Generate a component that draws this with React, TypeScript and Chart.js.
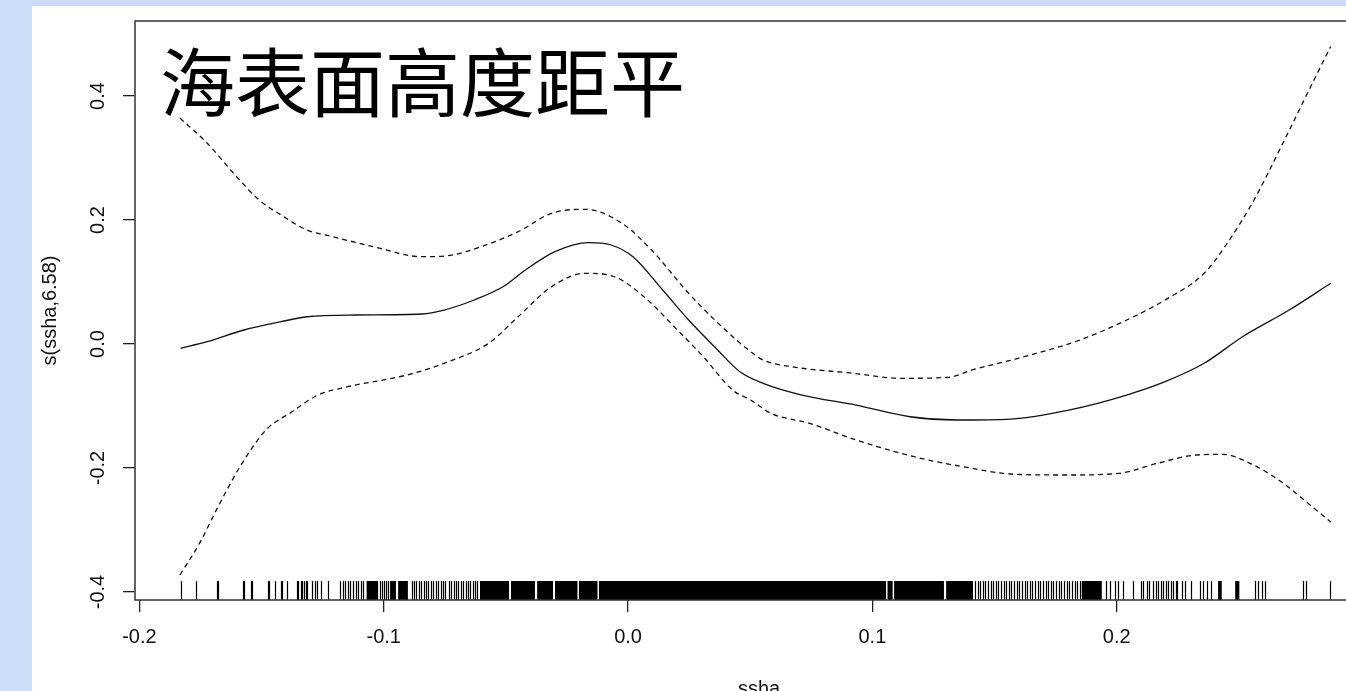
import React, { useEffect, useRef } from "react";
import { Chart, registerables } from "chart.js";

Chart.register(...registerables);

const TITLE = "海表面高度距平";
const X_LABEL = "ssha";
const Y_LABEL = "s(ssha,6.58)";

const xTickValues = [-0.2, -0.1, 0.0, 0.1, 0.2];
const yTickValues = [-0.4, -0.2, 0.0, 0.2, 0.4];

// smooth term estimate
const fitX = [-0.1832, -0.1723, -0.1572, -0.142, -0.1314, -0.1117, -0.0843, -0.0753, -0.063, -0.0512, -0.042, -0.0299, -0.0162, -0.007, 0.002, 0.0142, 0.0248, 0.0354, 0.0458, 0.0553, 0.0712, 0.0933, 0.1154, 0.1345, 0.1566, 0.1804, 0.2041, 0.2198, 0.2358, 0.2515, 0.2706, 0.2876];
const fitY = [-0.0069, 0.0037, 0.0226, 0.036, 0.044, 0.0468, 0.0484, 0.0548, 0.071, 0.0924, 0.1194, 0.1489, 0.1634, 0.1597, 0.1408, 0.0871, 0.0387, -0.0044, -0.0447, -0.0634, -0.0823, -0.0984, -0.1173, -0.1226, -0.121, -0.1065, -0.0823, -0.0608, -0.0311, 0.0118, 0.0548, 0.0979];

// upper confidence band
const upperX = [-0.1834, -0.1723, -0.1602, -0.151, -0.142, -0.1314, -0.1208, -0.1041, -0.0843, -0.0722, -0.0602, -0.045, -0.0313, -0.0177, -0.0025, 0.0096, 0.0248, 0.0384, 0.0502, 0.0553, 0.0696, 0.0901, 0.1122, 0.1313, 0.1408, 0.1596, 0.185, 0.2041, 0.2198, 0.2358, 0.2452, 0.2562, 0.2673, 0.2767, 0.2876];
const upperY = [0.3645, 0.3242, 0.2698, 0.2323, 0.2081, 0.1839, 0.1731, 0.1569, 0.1408, 0.1435, 0.1569, 0.1811, 0.2108, 0.2173, 0.1947, 0.1516, 0.0818, 0.0279, -0.0124, -0.0258, -0.0382, -0.0463, -0.0553, -0.0537, -0.0419, -0.0231, 0.0065, 0.0387, 0.071, 0.114, 0.1624, 0.2323, 0.3182, 0.3935, 0.48];

// lower confidence band
const lowerX = [-0.1834, -0.1754, -0.1678, -0.1588, -0.1482, -0.1375, -0.1269, -0.1147, -0.0905, -0.0753, -0.0571, -0.045, -0.0313, -0.0177, -0.0056, 0.0065, 0.0202, 0.0308, 0.043, 0.0502, 0.0585, 0.0743, 0.0933, 0.1171, 0.1408, 0.1566, 0.1804, 0.201, 0.2167, 0.2325, 0.2436, 0.2546, 0.2673, 0.2767, 0.2876];
const lowerY = [-0.3726, -0.3215, -0.2624, -0.1979, -0.1387, -0.1092, -0.0823, -0.0689, -0.05, -0.0311, 0.0011, 0.044, 0.0924, 0.114, 0.1085, 0.0763, 0.0226, -0.0205, -0.075, -0.0903, -0.1118, -0.1279, -0.1548, -0.1818, -0.2005, -0.2097, -0.2113, -0.2085, -0.1924, -0.179, -0.1779, -0.1924, -0.2221, -0.2516, -0.287];

// observed ssha values (rug)
const rugValues = [
  -0.1831, -0.177, -0.1684, -0.168, -0.1577, -0.1572, -0.1544, -0.1539, -0.1474, -0.1468,
  -0.1444, -0.1422, -0.1416, -0.1397, -0.1356, -0.135, -0.1338, -0.1333, -0.1327, -0.1319,
  -0.1314, -0.1295, -0.1281, -0.1274, -0.1258, -0.1227, -0.1179, -0.1168, -0.1158, -0.1147,
  -0.1138, -0.1126, -0.1115, -0.1105, -0.1093, -0.1083, -0.1015, -0.1007, -0.0999, -0.0991,
  -0.0982, -0.0884, -0.0876, -0.0866, -0.0855, -0.0847, -0.0837, -0.0827, -0.0819, -0.0806,
  -0.0798, -0.0786, -0.0778, -0.0767, -0.0757, -0.0749, -0.0733, -0.0725, -0.0714, -0.0704,
  -0.0696, -0.0684, -0.0675, -0.0663, -0.0655, -0.0645, -0.0634, -0.0626, -0.0618,
  0.142, 0.1431, 0.1441, 0.1453, 0.1461, 0.1474, 0.1484, 0.1494, 0.1506, 0.1515,
  0.1527, 0.1537, 0.1547, 0.156, 0.1568, 0.158, 0.1592, 0.16, 0.1613, 0.1623,
  0.1633, 0.1646, 0.1654, 0.1666, 0.1678, 0.1686, 0.1699, 0.1709, 0.1719, 0.1731,
  0.174, 0.1752, 0.1764, 0.1772, 0.1785, 0.1795, 0.1805, 0.1817, 0.1828, 0.1838,
  0.1848, 0.1957, 0.1973, 0.1993, 0.2007, 0.2025, 0.2066, 0.2099, 0.2109, 0.2123,
  0.2134, 0.2149, 0.2159, 0.2169, 0.218, 0.219, 0.22, 0.221, 0.2221, 0.2231,
  0.2241, 0.2247, 0.2266, 0.228, 0.2303, 0.2339, 0.2355, 0.2369, 0.2385, 0.2567,
  0.258, 0.2594, 0.2607, 0.2764, 0.2775, 0.2874,
];

// stretches where observations are too close to separate
const rugBands: [number, number][] = [
  [-0.107, -0.1023], [-0.0974, -0.095], [-0.0941, -0.0901],
  [-0.0606, -0.0487], [-0.0479, -0.0381], [-0.0372, -0.0307], [-0.0299, -0.0207],
  [-0.0201, -0.0125], [-0.0119, 0.1056], [0.1062, 0.1083], [0.1089, 0.1293],
  [0.1302, 0.1412], [0.1857, 0.1939], [0.2415, 0.243], [0.2485, 0.2502],
];

const AXIS_FONT = "'Liberation Sans', Arial, sans-serif";

const framePlugin = {
  id: "frame",
  afterDatasetsDraw(chart: any) {
    const { ctx, chartArea: a, scales } = chart;
    const xs = scales.x;
    const len = 19;
    ctx.save();
    ctx.strokeStyle = "#000";
    ctx.fillStyle = "#000";
    ctx.lineWidth = 1.2;
    ctx.beginPath();
    for (const v of rugValues) {
      const px = Math.round(xs.getPixelForValue(v)) + 0.5;
      ctx.moveTo(px, a.bottom);
      ctx.lineTo(px, a.bottom - len);
    }
    ctx.stroke();
    for (const [lo, hi] of rugBands) {
      const p0 = xs.getPixelForValue(lo);
      const p1 = xs.getPixelForValue(hi);
      ctx.fillRect(p0, a.bottom - len, Math.max(1, p1 - p0), len);
    }
    ctx.strokeStyle = "#333";
    ctx.lineWidth = 1.5;
    ctx.strokeRect(a.left, a.top, a.right - a.left, a.bottom - a.top);
    ctx.fillStyle = "#000";
    ctx.font = '75px "Noto Sans CJK SC"';
    ctx.textAlign = "left";
    ctx.textBaseline = "alphabetic";
    ctx.fillText(TITLE, a.left + 25, a.top + 90);
    ctx.restore();
  },
};

function toPoints(xs: number[], ys: number[]) {
  return xs.map((x, i) => ({ x, y: ys[i] }));
}

function clearPadding(s: any) {
  s.paddingTop = 0;
  s.paddingBottom = 0;
  s.paddingLeft = 0;
  s.paddingRight = 0;
}

export default function App() {
  const canvasRef = useRef<HTMLCanvasElement | null>(null);

  useEffect(() => {
    if (!canvasRef.current) return;
    const lineBase = {
      pointRadius: 0,
      borderColor: "#111",
      borderWidth: 1.3,
      cubicInterpolationMode: "monotone" as const,
      fill: false,
    };
    const chart = new Chart(canvasRef.current, {
      type: "line",
      data: {
        datasets: [
          { ...lineBase, label: "fit", data: toPoints(fitX, fitY) },
          { ...lineBase, label: "upper", data: toPoints(upperX, upperY), borderDash: [5, 4] },
          { ...lineBase, label: "lower", data: toPoints(lowerX, lowerY), borderDash: [5, 4] },
        ],
      },
      options: {
        animation: false,
        responsive: false,
        devicePixelRatio: 1,
        layout: { padding: { left: 0, top: 15, right: 19, bottom: 0 } },
        plugins: { legend: { display: false }, tooltip: { enabled: false }, title: { display: false } },
        scales: {
          x: {
            type: "linear",
            min: -0.2018,
            max: 0.309,
            afterBuildTicks: (s: any) => {
              s.ticks = xTickValues.map((v) => ({ value: v }));
            },
            afterFit: (s: any) => {
              s.height = 126;
              clearPadding(s);
            },
            grid: { drawOnChartArea: false, drawTicks: true, tickLength: 12, color: "#222", lineWidth: 1.3 },
            border: { display: false },
            ticks: {
              autoSkip: false,
              includeBounds: false,
              maxRotation: 0,
              padding: 13,
              color: "#111",
              font: { family: AXIS_FONT, size: 20 },
              callback: (v: any) => Number(v).toFixed(1),
            },
            title: {
              display: true,
              text: X_LABEL,
              color: "#111",
              font: { family: AXIS_FONT, size: 20 },
              padding: { top: 0, bottom: 25 },
            },
          },
          y: {
            type: "linear",
            min: -0.4129,
            max: 0.521,
            afterBuildTicks: (s: any) => {
              s.ticks = yTickValues.map((v) => ({ value: v }));
            },
            afterFit: (s: any) => {
              s.width = 103;
              clearPadding(s);
            },
            grid: { drawOnChartArea: false, drawTicks: true, tickLength: 12, color: "#222", lineWidth: 1.3 },
            border: { display: false },
            ticks: {
              autoSkip: false,
              includeBounds: false,
              minRotation: 90,
              maxRotation: 90,
              crossAlign: "center",
              padding: 7,
              color: "#111",
              font: { family: AXIS_FONT, size: 20 },
              callback: (v: any) => Number(v).toFixed(1),
            },
            title: {
              display: true,
              text: Y_LABEL,
              color: "#111",
              font: { family: AXIS_FONT, size: 20 },
              padding: { top: 6, bottom: 0 },
            },
          },
        },
      },
      plugins: [framePlugin],
    } as any);
    return () => chart.destroy();
  }, []);

  return (
    <div style={{ position: "fixed", inset: 0, background: "#cddcf8", overflow: "hidden" }}>
      <div style={{ position: "absolute", left: 32, top: 6, width: 1400, height: 720, background: "#fff" }}>
        <canvas ref={canvasRef} width={1370} height={720} style={{ display: "block", width: 1370, height: 720 }} />
      </div>
    </div>
  );
}
